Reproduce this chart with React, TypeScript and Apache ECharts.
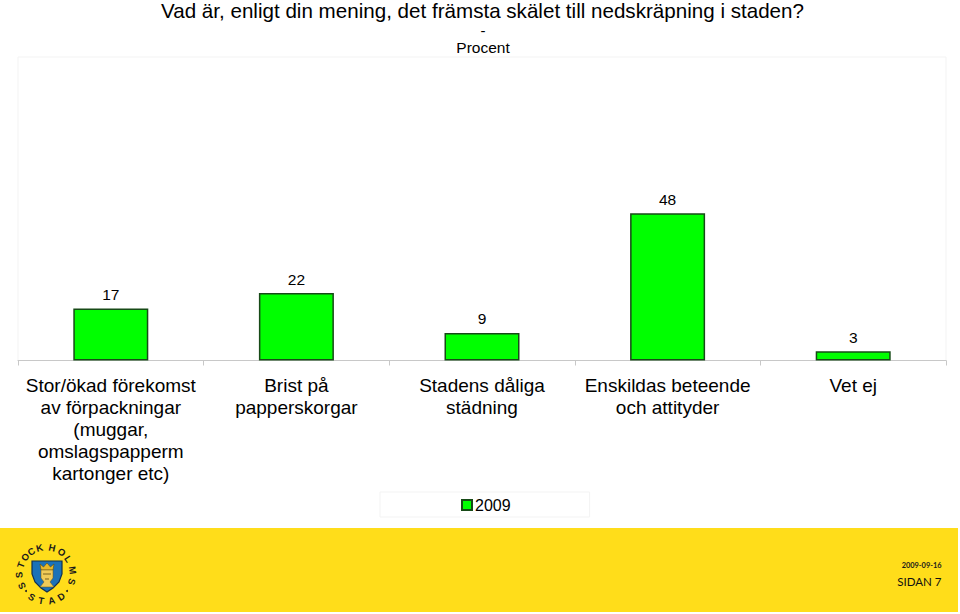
import React, { useEffect, useRef } from "react";
import * as echarts from "echarts";

const categories = [
  "Stor/ökad förekomst\nav förpackningar\n(muggar,\nomslagspapperm\nkartonger etc)",
  "Brist på\npapperskorgar",
  "Stadens dåliga\nstädning",
  "Enskildas beteende\noch attityder",
  "Vet ej",
];
const values2009 = [17, 22, 9, 48, 3];
const seriesName = "2009";
const titleText = "Vad är, enligt din mening, det främsta skälet till nedskräpning i staden?";
const topLetters = "STOCKHOLMS";
const topAngles = [-92, -70, -51, -33, -14, 13, 36, 56, 82, 107];
const bottomLetters = "STAD";
const bottomAngles = [212, 190, 168, 146];
const FONT = '"Liberation Sans", Arial, sans-serif';

const LOGO_X = 46;
const LOGO_Y = 574;
const LOGO_R = 27;
const LETTER_FONT = 'bold 9.5px "Liberation Sans", sans-serif';

function logoText(ch: string, deg: number, flip: boolean) {
  const a = (deg * Math.PI) / 180;
  return {
    type: "text",
    x: LOGO_X + LOGO_R * Math.sin(a),
    y: LOGO_Y - LOGO_R * Math.cos(a),
    rotation: flip ? Math.PI - a : -a,
    style: { text: ch, font: LETTER_FONT, fill: "#1a1a1a", align: "center", verticalAlign: "middle" },
  };
}

function logo(): any[] {
  const out: any[] = [];
  topLetters.split("").forEach((c, i) => out.push(logoText(c, topAngles[i], false)));
  out.push(logoText("S", -116, false));
  bottomLetters.split("").forEach((c, i) => out.push(logoText(c, bottomAngles[i], true)));
  out.push(
    { type: "circle", shape: { cx: 26, cy: 591, r: 1 }, style: { fill: "#222" } },
    { type: "circle", shape: { cx: 67, cy: 591, r: 1 }, style: { fill: "#222" } },
    {
      type: "polygon",
      shape: { points: [[32, 561], [62, 561], [62, 574], [59, 582], [53, 588], [47, 592], [41, 588], [35, 582], [32, 574]] },
      style: { fill: "#1b72b8", stroke: "#12304f", lineWidth: 1.2 },
    },
    {
      type: "polygon",
      shape: { points: [[40, 564], [43.5, 567], [47, 563], [50.5, 567], [54, 564], [53, 570], [41, 570]] },
      style: { fill: "#e8b92a", stroke: "#5a4a10", lineWidth: 0.6 },
    },
    {
      type: "polygon",
      shape: { points: [[41, 570], [53, 570], [53, 578], [50, 582], [54, 587], [40, 587], [44, 582], [41, 578]] },
      style: { fill: "#f0cb58", stroke: "#6a5616", lineWidth: 0.5 },
    },
    { type: "line", shape: { x1: 43, y1: 574, x2: 51, y2: 574 }, style: { stroke: "#5a4a10", lineWidth: 0.8 } },
    { type: "line", shape: { x1: 45, y1: 579, x2: 49, y2: 579 }, style: { stroke: "#5a4a10", lineWidth: 0.8 } }
  );
  return out;
}

export default function App() {
  const ref = useRef<HTMLDivElement>(null);
  useEffect(() => {
    document.body.style.margin = "0";
    const chart = echarts.init(ref.current!, undefined, { renderer: "svg" });
    chart.setOption({
      animation: false,
      backgroundColor: "#ffffff",
      textStyle: { fontFamily: FONT },
      title: [
        { text: titleText, left: 161, top: -1, padding: 0, textStyle: { fontFamily: FONT, fontSize: 20.6, fontWeight: "normal", color: "#000", lineHeight: 22 } },
        { text: "-", left: 483, top: 23, padding: 0, textAlign: "center", textStyle: { fontFamily: FONT, fontSize: 15, fontWeight: "normal", color: "#000" } },
        { text: "Procent", left: 483, top: 39, padding: 0, textAlign: "center", textStyle: { fontFamily: FONT, fontSize: 15.5, fontWeight: "normal", color: "#000" } },
      ],
      legend: {
        data: [{ name: seriesName, icon: "rect" }],
        left: 380,
        top: 492,
        padding: [5, 79, 4, 81],
        borderColor: "#f3f3f3",
        borderWidth: 1,
        itemWidth: 10,
        itemHeight: 10,
        itemGap: 4,
        textStyle: { fontFamily: FONT, fontSize: 16, color: "#000", padding: [0, 0, 0, -2] },
      },
      grid: { left: 18, right: 14, top: 57, bottom: 253.5, show: true, borderColor: "#f3f3f3", borderWidth: 1, backgroundColor: "transparent" },
      xAxis: {
        type: "category",
        data: categories,
        axisLine: { lineStyle: { color: "#c8c8c8", width: 1 } },
        axisTick: { show: true, alignWithLabel: false, length: 5, lineStyle: { color: "#c8c8c8" } },
        axisLabel: { interval: 0, margin: 14, color: "#000", fontFamily: FONT, fontSize: 19, lineHeight: 22 },
      },
      yAxis: { type: "value", min: 0, max: 99, show: false, splitLine: { show: false } },
      series: [
        {
          name: seriesName,
          type: "bar",
          data: values2009,
          barWidth: 75,
          itemStyle: { color: "#00ff00", borderColor: "#174a17", borderWidth: 1.5 },
          label: { show: true, position: "top", distance: 6, color: "#000", fontFamily: FONT, fontSize: 15.5 },
        },
      ],
      graphic: [
        { type: "rect", z: -1, shape: { x: 0, y: 528, width: 958, height: 84 }, style: { fill: "#ffdd1a" } },
        ...logo(),
        { type: "text", x: 941.5, y: 565, style: { text: "2009-09-16", font: "bold 7.4px Lato, sans-serif", fill: "#1a1a1a", align: "right", verticalAlign: "middle" } },
        { type: "text", x: 941.5, y: 581, style: { text: "SIDAN 7", font: "11.5px Lato, sans-serif", fill: "#111", align: "right", verticalAlign: "middle" } },
      ],
    });
    return () => chart.dispose();
  }, []);
  return <div ref={ref} style={{ position: "fixed", left: 0, top: 0, width: 960, height: 614 }} />;
}
